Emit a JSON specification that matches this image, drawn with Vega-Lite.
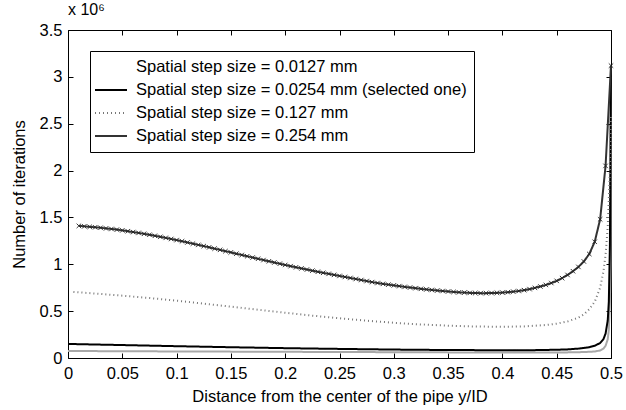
{
  "$schema": "https://vega.github.io/schema/vega-lite/v6.json",
  "width": 543,
  "height": 328,
  "autosize": {"type": "none"},
  "padding": {"left": 68, "top": 30, "right": 15, "bottom": 52},
  "title": {"text": "x 10⁶", "anchor": "start", "frame": "group", "offset": 4, "fontSize": 16, "fontWeight": "normal", "font": "Liberation Sans", "color": "black"},
  "config": {
    "font": "Liberation Sans",
    "view": {"stroke": "black", "strokeWidth": 1},
    "axis": {"domain": false, "grid": false, "tickColor": "black", "tickSize": -5, "labelFont": "Liberation Sans", "labelFontSize": 16.5, "labelColor": "black", "titleFont": "Liberation Sans", "titleFontSize": 16.5, "titleFontWeight": "normal", "titleColor": "black", "labelFlush": false},
    "legend": {"orient": "none", "legendX": 22, "legendY": 21, "strokeColor": "black", "fillColor": "white", "padding": 7, "symbolType": "M-2,0H2", "symbolSize": 256, "symbolOffset": 5, "labelFont": "Liberation Sans", "labelFontSize": 16.5, "labelColor": "black", "rowPadding": 5, "labelOffset": 16, "labelLimit": 0, "title": null}
  },
  "datasets": {
    "curves": [
      {"s": "Spatial step size = 0.0127 mm", "x": 0.0, "y": 0.075},
      {"s": "Spatial step size = 0.0127 mm", "x": 0.05, "y": 0.072},
      {"s": "Spatial step size = 0.0127 mm", "x": 0.1, "y": 0.07},
      {"s": "Spatial step size = 0.0127 mm", "x": 0.15, "y": 0.068},
      {"s": "Spatial step size = 0.0127 mm", "x": 0.2, "y": 0.066},
      {"s": "Spatial step size = 0.0127 mm", "x": 0.25, "y": 0.064},
      {"s": "Spatial step size = 0.0127 mm", "x": 0.3, "y": 0.062},
      {"s": "Spatial step size = 0.0127 mm", "x": 0.35, "y": 0.06},
      {"s": "Spatial step size = 0.0127 mm", "x": 0.4, "y": 0.058},
      {"s": "Spatial step size = 0.0127 mm", "x": 0.44, "y": 0.058},
      {"s": "Spatial step size = 0.0127 mm", "x": 0.46, "y": 0.06},
      {"s": "Spatial step size = 0.0127 mm", "x": 0.47, "y": 0.062},
      {"s": "Spatial step size = 0.0127 mm", "x": 0.48, "y": 0.066},
      {"s": "Spatial step size = 0.0127 mm", "x": 0.485, "y": 0.07},
      {"s": "Spatial step size = 0.0127 mm", "x": 0.49, "y": 0.08},
      {"s": "Spatial step size = 0.0127 mm", "x": 0.493, "y": 0.1},
      {"s": "Spatial step size = 0.0127 mm", "x": 0.495, "y": 0.13},
      {"s": "Spatial step size = 0.0127 mm", "x": 0.497, "y": 0.2},
      {"s": "Spatial step size = 0.0127 mm", "x": 0.498, "y": 0.3},
      {"s": "Spatial step size = 0.0127 mm", "x": 0.499, "y": 0.6},
      {"s": "Spatial step size = 0.0127 mm", "x": 0.4995, "y": 1.0},
      {"s": "Spatial step size = 0.0127 mm", "x": 0.5, "y": 3.0},
      {"s": "Spatial step size = 0.0254 mm (selected one)", "x": 0.0, "y": 0.15},
      {"s": "Spatial step size = 0.0254 mm (selected one)", "x": 0.05, "y": 0.138},
      {"s": "Spatial step size = 0.0254 mm (selected one)", "x": 0.1, "y": 0.126},
      {"s": "Spatial step size = 0.0254 mm (selected one)", "x": 0.15, "y": 0.115},
      {"s": "Spatial step size = 0.0254 mm (selected one)", "x": 0.2, "y": 0.105},
      {"s": "Spatial step size = 0.0254 mm (selected one)", "x": 0.25, "y": 0.097},
      {"s": "Spatial step size = 0.0254 mm (selected one)", "x": 0.3, "y": 0.09},
      {"s": "Spatial step size = 0.0254 mm (selected one)", "x": 0.35, "y": 0.085},
      {"s": "Spatial step size = 0.0254 mm (selected one)", "x": 0.4, "y": 0.083},
      {"s": "Spatial step size = 0.0254 mm (selected one)", "x": 0.43, "y": 0.084},
      {"s": "Spatial step size = 0.0254 mm (selected one)", "x": 0.45, "y": 0.088},
      {"s": "Spatial step size = 0.0254 mm (selected one)", "x": 0.46, "y": 0.092},
      {"s": "Spatial step size = 0.0254 mm (selected one)", "x": 0.47, "y": 0.1},
      {"s": "Spatial step size = 0.0254 mm (selected one)", "x": 0.48, "y": 0.115},
      {"s": "Spatial step size = 0.0254 mm (selected one)", "x": 0.485, "y": 0.13},
      {"s": "Spatial step size = 0.0254 mm (selected one)", "x": 0.49, "y": 0.16},
      {"s": "Spatial step size = 0.0254 mm (selected one)", "x": 0.493, "y": 0.2},
      {"s": "Spatial step size = 0.0254 mm (selected one)", "x": 0.495, "y": 0.26},
      {"s": "Spatial step size = 0.0254 mm (selected one)", "x": 0.497, "y": 0.4},
      {"s": "Spatial step size = 0.0254 mm (selected one)", "x": 0.498, "y": 0.6},
      {"s": "Spatial step size = 0.0254 mm (selected one)", "x": 0.499, "y": 1.2},
      {"s": "Spatial step size = 0.0254 mm (selected one)", "x": 0.5, "y": 3.1},
      {"s": "Spatial step size = 0.127 mm", "x": 0.005, "y": 0.705},
      {"s": "Spatial step size = 0.127 mm", "x": 0.025, "y": 0.688},
      {"s": "Spatial step size = 0.127 mm", "x": 0.05, "y": 0.665},
      {"s": "Spatial step size = 0.127 mm", "x": 0.075, "y": 0.64},
      {"s": "Spatial step size = 0.127 mm", "x": 0.1, "y": 0.612},
      {"s": "Spatial step size = 0.127 mm", "x": 0.125, "y": 0.58},
      {"s": "Spatial step size = 0.127 mm", "x": 0.15, "y": 0.548},
      {"s": "Spatial step size = 0.127 mm", "x": 0.175, "y": 0.515},
      {"s": "Spatial step size = 0.127 mm", "x": 0.2, "y": 0.483},
      {"s": "Spatial step size = 0.127 mm", "x": 0.225, "y": 0.452},
      {"s": "Spatial step size = 0.127 mm", "x": 0.25, "y": 0.424},
      {"s": "Spatial step size = 0.127 mm", "x": 0.275, "y": 0.398},
      {"s": "Spatial step size = 0.127 mm", "x": 0.3, "y": 0.376},
      {"s": "Spatial step size = 0.127 mm", "x": 0.325, "y": 0.358},
      {"s": "Spatial step size = 0.127 mm", "x": 0.35, "y": 0.345},
      {"s": "Spatial step size = 0.127 mm", "x": 0.375, "y": 0.336},
      {"s": "Spatial step size = 0.127 mm", "x": 0.4, "y": 0.333},
      {"s": "Spatial step size = 0.127 mm", "x": 0.42, "y": 0.337},
      {"s": "Spatial step size = 0.127 mm", "x": 0.44, "y": 0.352},
      {"s": "Spatial step size = 0.127 mm", "x": 0.45, "y": 0.366},
      {"s": "Spatial step size = 0.127 mm", "x": 0.46, "y": 0.39},
      {"s": "Spatial step size = 0.127 mm", "x": 0.47, "y": 0.43},
      {"s": "Spatial step size = 0.127 mm", "x": 0.475, "y": 0.465},
      {"s": "Spatial step size = 0.127 mm", "x": 0.48, "y": 0.52},
      {"s": "Spatial step size = 0.127 mm", "x": 0.485, "y": 0.6},
      {"s": "Spatial step size = 0.127 mm", "x": 0.49, "y": 0.75},
      {"s": "Spatial step size = 0.127 mm", "x": 0.493, "y": 0.92},
      {"s": "Spatial step size = 0.127 mm", "x": 0.495, "y": 1.1},
      {"s": "Spatial step size = 0.127 mm", "x": 0.497, "y": 1.4},
      {"s": "Spatial step size = 0.127 mm", "x": 0.499, "y": 2.0},
      {"s": "Spatial step size = 0.127 mm", "x": 0.5, "y": 2.6},
      {"s": "Spatial step size = 0.254 mm", "x": 0.01, "y": 1.41},
      {"s": "Spatial step size = 0.254 mm", "x": 0.015, "y": 1.405},
      {"s": "Spatial step size = 0.254 mm", "x": 0.02, "y": 1.4},
      {"s": "Spatial step size = 0.254 mm", "x": 0.025, "y": 1.395},
      {"s": "Spatial step size = 0.254 mm", "x": 0.03, "y": 1.39},
      {"s": "Spatial step size = 0.254 mm", "x": 0.035, "y": 1.383},
      {"s": "Spatial step size = 0.254 mm", "x": 0.04, "y": 1.377},
      {"s": "Spatial step size = 0.254 mm", "x": 0.045, "y": 1.37},
      {"s": "Spatial step size = 0.254 mm", "x": 0.05, "y": 1.362},
      {"s": "Spatial step size = 0.254 mm", "x": 0.055, "y": 1.353},
      {"s": "Spatial step size = 0.254 mm", "x": 0.06, "y": 1.344},
      {"s": "Spatial step size = 0.254 mm", "x": 0.065, "y": 1.335},
      {"s": "Spatial step size = 0.254 mm", "x": 0.07, "y": 1.325},
      {"s": "Spatial step size = 0.254 mm", "x": 0.075, "y": 1.315},
      {"s": "Spatial step size = 0.254 mm", "x": 0.08, "y": 1.304},
      {"s": "Spatial step size = 0.254 mm", "x": 0.085, "y": 1.293},
      {"s": "Spatial step size = 0.254 mm", "x": 0.09, "y": 1.282},
      {"s": "Spatial step size = 0.254 mm", "x": 0.095, "y": 1.27},
      {"s": "Spatial step size = 0.254 mm", "x": 0.1, "y": 1.258},
      {"s": "Spatial step size = 0.254 mm", "x": 0.105, "y": 1.246},
      {"s": "Spatial step size = 0.254 mm", "x": 0.11, "y": 1.233},
      {"s": "Spatial step size = 0.254 mm", "x": 0.115, "y": 1.22},
      {"s": "Spatial step size = 0.254 mm", "x": 0.12, "y": 1.207},
      {"s": "Spatial step size = 0.254 mm", "x": 0.125, "y": 1.194},
      {"s": "Spatial step size = 0.254 mm", "x": 0.13, "y": 1.181},
      {"s": "Spatial step size = 0.254 mm", "x": 0.135, "y": 1.167},
      {"s": "Spatial step size = 0.254 mm", "x": 0.14, "y": 1.154},
      {"s": "Spatial step size = 0.254 mm", "x": 0.145, "y": 1.14},
      {"s": "Spatial step size = 0.254 mm", "x": 0.15, "y": 1.127},
      {"s": "Spatial step size = 0.254 mm", "x": 0.155, "y": 1.113},
      {"s": "Spatial step size = 0.254 mm", "x": 0.16, "y": 1.099},
      {"s": "Spatial step size = 0.254 mm", "x": 0.165, "y": 1.086},
      {"s": "Spatial step size = 0.254 mm", "x": 0.17, "y": 1.072},
      {"s": "Spatial step size = 0.254 mm", "x": 0.175, "y": 1.059},
      {"s": "Spatial step size = 0.254 mm", "x": 0.18, "y": 1.045},
      {"s": "Spatial step size = 0.254 mm", "x": 0.185, "y": 1.032},
      {"s": "Spatial step size = 0.254 mm", "x": 0.19, "y": 1.019},
      {"s": "Spatial step size = 0.254 mm", "x": 0.195, "y": 1.006},
      {"s": "Spatial step size = 0.254 mm", "x": 0.2, "y": 0.993},
      {"s": "Spatial step size = 0.254 mm", "x": 0.205, "y": 0.98},
      {"s": "Spatial step size = 0.254 mm", "x": 0.21, "y": 0.968},
      {"s": "Spatial step size = 0.254 mm", "x": 0.215, "y": 0.956},
      {"s": "Spatial step size = 0.254 mm", "x": 0.22, "y": 0.944},
      {"s": "Spatial step size = 0.254 mm", "x": 0.225, "y": 0.932},
      {"s": "Spatial step size = 0.254 mm", "x": 0.23, "y": 0.92},
      {"s": "Spatial step size = 0.254 mm", "x": 0.235, "y": 0.909},
      {"s": "Spatial step size = 0.254 mm", "x": 0.24, "y": 0.898},
      {"s": "Spatial step size = 0.254 mm", "x": 0.245, "y": 0.887},
      {"s": "Spatial step size = 0.254 mm", "x": 0.25, "y": 0.876},
      {"s": "Spatial step size = 0.254 mm", "x": 0.255, "y": 0.865},
      {"s": "Spatial step size = 0.254 mm", "x": 0.26, "y": 0.854},
      {"s": "Spatial step size = 0.254 mm", "x": 0.265, "y": 0.843},
      {"s": "Spatial step size = 0.254 mm", "x": 0.27, "y": 0.832},
      {"s": "Spatial step size = 0.254 mm", "x": 0.275, "y": 0.821},
      {"s": "Spatial step size = 0.254 mm", "x": 0.28, "y": 0.81},
      {"s": "Spatial step size = 0.254 mm", "x": 0.285, "y": 0.8},
      {"s": "Spatial step size = 0.254 mm", "x": 0.29, "y": 0.791},
      {"s": "Spatial step size = 0.254 mm", "x": 0.295, "y": 0.783},
      {"s": "Spatial step size = 0.254 mm", "x": 0.3, "y": 0.775},
      {"s": "Spatial step size = 0.254 mm", "x": 0.305, "y": 0.767},
      {"s": "Spatial step size = 0.254 mm", "x": 0.31, "y": 0.759},
      {"s": "Spatial step size = 0.254 mm", "x": 0.315, "y": 0.752},
      {"s": "Spatial step size = 0.254 mm", "x": 0.32, "y": 0.745},
      {"s": "Spatial step size = 0.254 mm", "x": 0.325, "y": 0.738},
      {"s": "Spatial step size = 0.254 mm", "x": 0.33, "y": 0.732},
      {"s": "Spatial step size = 0.254 mm", "x": 0.335, "y": 0.726},
      {"s": "Spatial step size = 0.254 mm", "x": 0.34, "y": 0.72},
      {"s": "Spatial step size = 0.254 mm", "x": 0.345, "y": 0.715},
      {"s": "Spatial step size = 0.254 mm", "x": 0.35, "y": 0.71},
      {"s": "Spatial step size = 0.254 mm", "x": 0.355, "y": 0.705},
      {"s": "Spatial step size = 0.254 mm", "x": 0.36, "y": 0.701},
      {"s": "Spatial step size = 0.254 mm", "x": 0.365, "y": 0.698},
      {"s": "Spatial step size = 0.254 mm", "x": 0.37, "y": 0.695},
      {"s": "Spatial step size = 0.254 mm", "x": 0.375, "y": 0.693},
      {"s": "Spatial step size = 0.254 mm", "x": 0.38, "y": 0.692},
      {"s": "Spatial step size = 0.254 mm", "x": 0.385, "y": 0.692},
      {"s": "Spatial step size = 0.254 mm", "x": 0.39, "y": 0.693},
      {"s": "Spatial step size = 0.254 mm", "x": 0.395, "y": 0.695},
      {"s": "Spatial step size = 0.254 mm", "x": 0.4, "y": 0.698},
      {"s": "Spatial step size = 0.254 mm", "x": 0.405, "y": 0.702},
      {"s": "Spatial step size = 0.254 mm", "x": 0.41, "y": 0.708},
      {"s": "Spatial step size = 0.254 mm", "x": 0.415, "y": 0.715},
      {"s": "Spatial step size = 0.254 mm", "x": 0.42, "y": 0.724},
      {"s": "Spatial step size = 0.254 mm", "x": 0.425, "y": 0.735},
      {"s": "Spatial step size = 0.254 mm", "x": 0.43, "y": 0.748},
      {"s": "Spatial step size = 0.254 mm", "x": 0.435, "y": 0.763},
      {"s": "Spatial step size = 0.254 mm", "x": 0.44, "y": 0.78},
      {"s": "Spatial step size = 0.254 mm", "x": 0.445, "y": 0.8},
      {"s": "Spatial step size = 0.254 mm", "x": 0.45, "y": 0.823},
      {"s": "Spatial step size = 0.254 mm", "x": 0.455, "y": 0.852},
      {"s": "Spatial step size = 0.254 mm", "x": 0.46, "y": 0.886},
      {"s": "Spatial step size = 0.254 mm", "x": 0.465, "y": 0.926},
      {"s": "Spatial step size = 0.254 mm", "x": 0.47, "y": 0.972},
      {"s": "Spatial step size = 0.254 mm", "x": 0.475, "y": 1.03},
      {"s": "Spatial step size = 0.254 mm", "x": 0.48, "y": 1.11},
      {"s": "Spatial step size = 0.254 mm", "x": 0.485, "y": 1.24},
      {"s": "Spatial step size = 0.254 mm", "x": 0.49, "y": 1.48},
      {"s": "Spatial step size = 0.254 mm", "x": 0.495, "y": 2.05},
      {"s": "Spatial step size = 0.254 mm", "x": 0.5, "y": 3.12}
    ]
  },
  "data": {"name": "curves"},
  "layer": [
    {
      "mark": {"type": "line", "opacity": 0},
      "encoding": {
        "x": {"field": "x", "type": "quantitative", "scale": {"domain": [0, 0.5], "nice": false, "zero": false},
              "axis": {"orient": "top", "values": [0, 0.05, 0.1, 0.15, 0.2, 0.25, 0.3, 0.35, 0.4, 0.45, 0.5], "labels": false, "title": null}},
        "y": {"field": "y", "type": "quantitative", "scale": {"domain": [0, 3.5], "nice": false},
              "axis": {"orient": "right", "values": [0, 0.5, 1, 1.5, 2, 2.5, 3, 3.5], "labels": false, "title": null}},
        "detail": {"field": "s"}
      }
    },
    {
      "mark": {"type": "line", "interpolate": "linear"},
      "encoding": {
        "x": {"field": "x", "type": "quantitative",
              "axis": {"orient": "bottom", "values": [0, 0.05, 0.1, 0.15, 0.2, 0.25, 0.3, 0.35, 0.4, 0.45, 0.5], "format": "~g", "labelPadding": 12, "title": "Distance from the center of the pipe y/ID", "titlePadding": 7}},
        "y": {"field": "y", "type": "quantitative",
              "axis": {"orient": "left", "values": [0, 0.5, 1, 1.5, 2, 2.5, 3, 3.5], "format": "~g", "labelPadding": 11, "title": "Number of iterations", "titlePadding": 12}},
        "color": {"field": "s", "type": "nominal",
                  "scale": {"domain": ["Spatial step size = 0.0127 mm", "Spatial step size = 0.0254 mm (selected one)", "Spatial step size = 0.127 mm", "Spatial step size = 0.254 mm"], "range": ["#a8a8a8", "#000000", "#777777", "#333333"]},
                  "legend": {"title": null, "symbolStrokeWidth": 2, "encode": {"symbols": {"update": {"opacity": {"signal": "datum.value === 'Spatial step size = 0.0127 mm' ? 0 : 1"}}}}}},
        "strokeDash": {"field": "s", "type": "nominal",
                  "scale": {"domain": ["Spatial step size = 0.0127 mm", "Spatial step size = 0.0254 mm (selected one)", "Spatial step size = 0.127 mm", "Spatial step size = 0.254 mm"], "range": [[1, 0], [1, 0], [1, 3], [1, 0]]},
                  "legend": {"title": null}},
        "strokeWidth": {"field": "s", "type": "nominal",
                  "scale": {"domain": ["Spatial step size = 0.0127 mm", "Spatial step size = 0.0254 mm (selected one)", "Spatial step size = 0.127 mm", "Spatial step size = 0.254 mm"], "range": [2, 2, 1, 1]},
                  "legend": {"title": null}}
      }
    },
    {
      "transform": [{"filter": "datum.s == 'Spatial step size = 0.254 mm'"}],
      "mark": {"type": "point", "shape": "M-1,-1L1,1M-1,1L1,-1", "filled": false, "size": 20, "stroke": "#222222", "strokeWidth": 0.9, "opacity": 1},
      "encoding": {
        "x": {"field": "x", "type": "quantitative", "axis": null},
        "y": {"field": "y", "type": "quantitative", "axis": null}
      }
    }
  ],
  "resolve": {"axis": {"x": "independent", "y": "independent"}}
}
